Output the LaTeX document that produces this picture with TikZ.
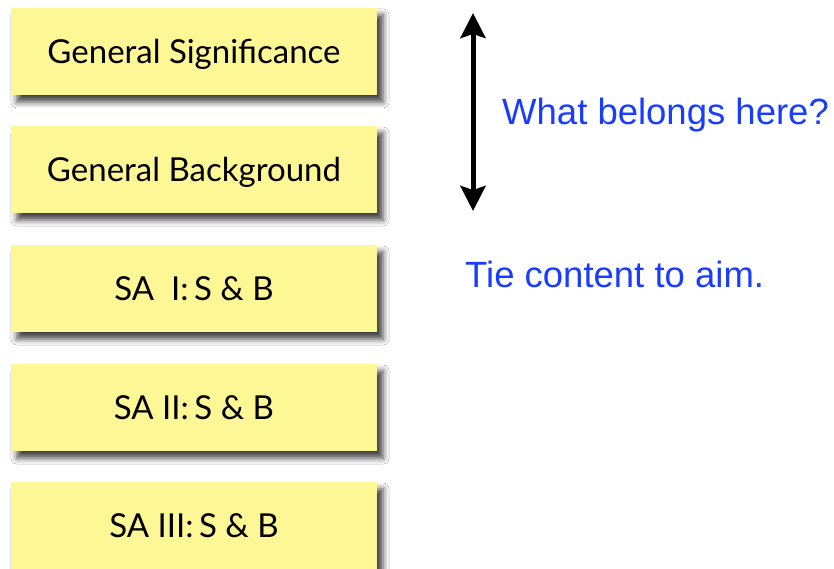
\documentclass[tikz,border=0pt]{standalone}
\usepackage{fontspec}
\setmainfont{Lato}
\newfontfamily\notefont{Liberation Sans}
\usetikzlibrary{shadows.blur,arrows.meta}
\definecolor{padyellow}{HTML}{FEF796}
\definecolor{noteblue}{HTML}{1A3CFF}
\tikzset{
  sectionbox/.style={rectangle, fill=padyellow, draw=none,
    minimum width=366pt, minimum height=87pt, inner sep=0pt,
    text height=24pt, text depth=0pt,
    font=\fontsize{33pt}{36pt}\selectfont,
    blur shadow={shadow xshift=6pt, shadow yshift=-7pt,
      shadow blur radius=6pt, shadow opacity=75}},
  note/.style={anchor=base west, inner sep=0pt, text=noteblue,
    font=\notefont\fontsize{36.5pt}{40pt}\selectfont},
  spanarrow/.style={line width=5pt,
    {Stealth[length=25pt,width=25pt,inset=4pt]}-{Stealth[length=25pt,width=25pt,inset=4pt]}}
}
\begin{document}
\begin{tikzpicture}[x=1pt,y=-1pt]
  \useasboundingbox (0,0) rectangle (834,569);
  \fill[white] (0,0) rectangle (834,569);

  % stacked proposal sections
  \node[sectionbox] (sig)  at (194,51.5)  {General Significance};
  \node[sectionbox] (bg)   at (194,169.5) {General Background};
  \node[sectionbox] (sa1)  at (194,288.5) {SA\ \ I:\,S \& B};
  \node[sectionbox] (sa2)  at (194,407.5) {SA II:\,S \& B};
  \node[sectionbox] (sa3)  at (194,525.5) {SA III:\,S \& B};

  % span of the general sections
  \coordinate (spantop) at (473,13);
  \coordinate (spanbot) at (473,211);
  \draw[spanarrow] (spantop) -- (spanbot);

  \node[note] (q)   at (502,125) {What belongs here?};
  \node[note] (tie) at (465,287) {Tie content to aim.};
\end{tikzpicture}
\end{document}
